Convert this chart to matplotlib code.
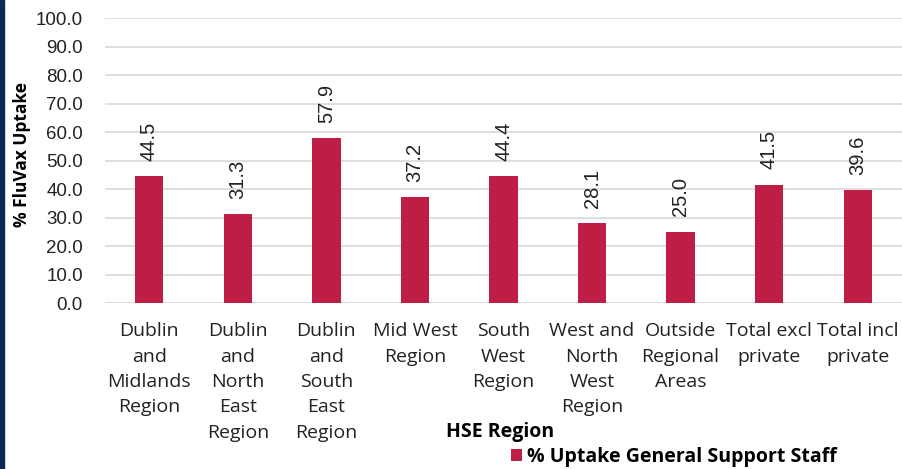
import numpy as np
import matplotlib.pyplot as plt
from matplotlib.patches import Rectangle

categories = ['Dublin\nand\nMidlands\nRegion', 'Dublin\nand\nNorth\nEast\nRegion',
              'Dublin\nand\nSouth\nEast\nRegion', 'Mid West\nRegion', 'South\nWest\nRegion',
              'West and\nNorth\nWest\nRegion', 'Outside\nRegional\nAreas',
              'Total excl\nprivate', 'Total incl\nprivate']
uptake = [44.5, 31.3, 57.9, 37.2, 44.4, 28.1, 25.0, 41.5, 39.6]

bar_color = '#BE1E45'
num_font = ['Liberation Sans', 'DejaVu Sans']
txt_font = ['Open Sans', 'DejaVu Sans']

fig = plt.figure(figsize=(9.02, 4.69), dpi=100)
ax = fig.add_axes([105/902, 1-303/469, 797/902, 285/469])

x = np.arange(len(categories))
ax.bar(x, uptake, width=0.32, color=bar_color, zorder=3, label='% Uptake General Support Staff')
for xi, v in zip(x, uptake):
    ax.annotate('%.1f' % v, (xi, v), xytext=(0, 11), textcoords='offset points',
                rotation=90, rotation_mode='anchor', ha='left', va='center',
                fontsize=14.5, color='#222222', family=num_font)

ax.set_xlim(-0.5, len(categories)-0.5)
ax.set_ylim(0, 100)
ax.set_yticks(np.arange(0, 101, 10))
ax.set_yticklabels(['%.1f' % t for t in np.arange(0, 101, 10)], fontsize=13.5,
                   family=num_font)
ax.set_xticks(x)
ax.set_xticklabels(categories, fontsize=14, linespacing=1.52, va='top', family=txt_font)
ax.tick_params(axis='both', length=0, colors='#222222')
ax.tick_params(axis='x', pad=14)
ax.tick_params(axis='y', pad=16)
ax.yaxis.grid(True, color='#d9d9d9', linewidth=1.2, zorder=0)
for s in ax.spines.values():
    s.set_visible(False)
ax.axhline(0, color='#d9d9d9', linewidth=1.2, zorder=2)

ax.set_ylabel('% FluVax Uptake', fontsize=12.5, fontweight='bold', family=txt_font)
ax.yaxis.set_label_coords(-74/797, 0.52)
fig.text(500/902, 1-432/469, 'HSE Region', fontsize=14, fontweight='bold',
         ha='center', va='center', family=txt_font)

leg = fig.legend(loc='center', bbox_to_anchor=(674/902, 1-457/469), frameon=False,
                 handlelength=0.55, handleheight=0.55, handletextpad=0.3,
                 prop={'family': txt_font, 'weight': 'bold', 'size': 14})

fig.patches.append(Rectangle((0, 0), 4/902, 1, transform=fig.transFigure,
                             color='#0B2A55', zorder=10))

fig.savefig('out.png', dpi=100)
